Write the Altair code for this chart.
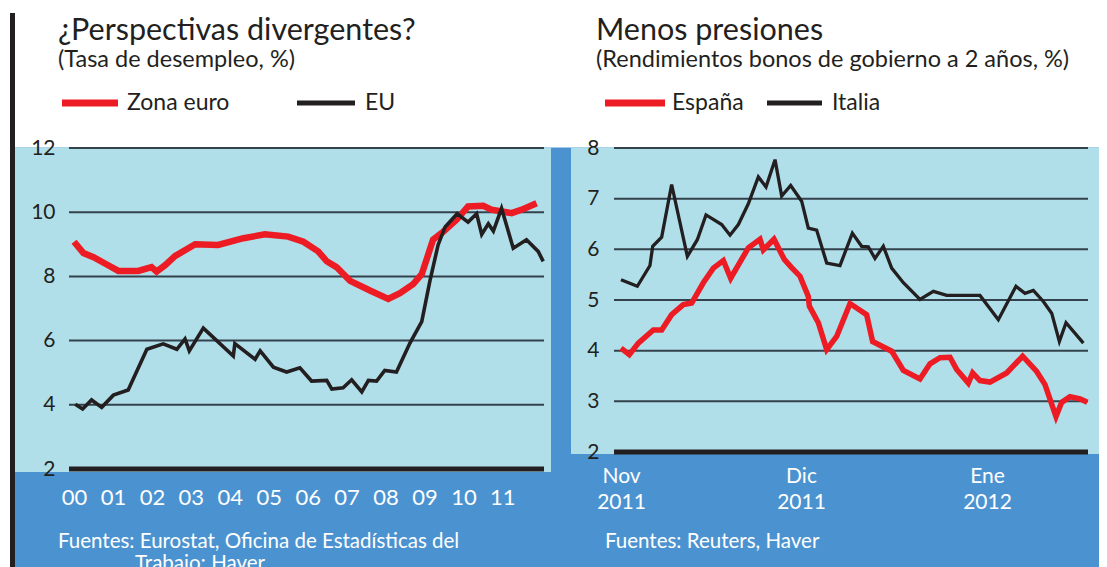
import json
import altair as alt
import pandas as pd

# ---------------- left panel: unemployment rate (%) ----------------
ez_years = [2000.0, 2000.24, 2000.50, 2000.84, 2001.14, 2001.65, 2001.99, 2002.12,
            2002.34, 2002.59, 2003.11, 2003.70, 2004.35, 2004.90, 2005.50, 2005.89,
            2006.27, 2006.49, 2006.74, 2007.09, 2007.60, 2008.07, 2008.37, 2008.71,
            2008.93, 2009.22, 2009.48, 2009.83, 2010.12, 2010.51, 2010.72, 2011.24,
            2011.54, 2011.88]
ez_values = [9.08, 8.73, 8.60, 8.37, 8.17, 8.17, 8.29, 8.15,
             8.35, 8.63, 9.00, 8.98, 9.19, 9.31, 9.24, 9.08,
             8.78, 8.47, 8.29, 7.86, 7.56, 7.30, 7.48, 7.76,
             8.07, 9.14, 9.39, 9.77, 10.18, 10.20, 10.08, 9.97,
             10.10, 10.28]

us_years = [2000.03, 2000.22, 2000.45, 2000.71, 2001.01, 2001.39, 2001.87, 2002.29,
            2002.64, 2002.85, 2002.96, 2003.32, 2004.09, 2004.13, 2004.65, 2004.78,
            2005.12, 2005.46, 2005.80, 2006.10, 2006.49, 2006.62, 2006.91, 2007.13,
            2007.39, 2007.56, 2007.77, 2007.98, 2008.28, 2008.63, 2008.93, 2009.14,
            2009.35, 2009.53, 2009.84, 2010.12, 2010.34, 2010.47, 2010.64, 2010.77,
            2010.98, 2011.28, 2011.62, 2011.92, 2012.05]
us_values = [4.02, 3.87, 4.15, 3.92, 4.30, 4.46, 5.73, 5.90,
             5.73, 6.05, 5.68, 6.39, 5.52, 5.91, 5.42, 5.68,
             5.17, 5.02, 5.15, 4.74, 4.76, 4.49, 4.53, 4.78,
             4.40, 4.76, 4.74, 5.07, 5.02, 5.93, 6.59, 7.86,
             8.98, 9.54, 9.95, 9.69, 9.95, 9.31, 9.64, 9.41,
             10.12, 8.88, 9.14, 8.78, 8.47]

left_series = ["Zona euro", "EU"]
left_tick_years = list(range(2000, 2012))
left_tick_labels = ["00", "01", "02", "03", "04", "05", "06", "07", "08", "09", "10", "11"]
left_y_ticks = [2, 4, 6, 8, 10, 12]
left_title = "¿Perspectivas divergentes?"
left_subtitle = "(Tasa de desempleo, %)"
left_source = ["Fuentes: Eurostat, Oficina de Estadísticas del", "Trabajo; Haver"]

# ---------------- right panel: 2-year government bond yields (%) ----------------
# days counted from 1 Nov 2011
es_days = [0.0, 1.39, 2.89, 5.39, 6.78, 8.44, 10.39, 11.78, 13.72, 15.39, 17.06, 18.28,
           21.22, 23.17, 23.72, 25.5, 27.22, 28.44, 29.83, 31.22, 31.39, 32.89, 34.28,
           35.94, 38.17, 40.94, 41.94, 45.11, 47.06, 49.83, 51.5, 53.17, 54.83, 55.94,
           57.89, 58.61, 59.83, 61.5, 64.28, 66.94, 69.28, 70.67, 72.5, 73.44, 74.83,
           76.5, 77.72]
es_values = [4.05, 3.92, 4.15, 4.41, 4.41, 4.71, 4.91, 4.94, 5.34, 5.63, 5.78, 5.43,
             6.03, 6.20, 5.99, 6.20, 5.80, 5.64, 5.47, 5.07, 4.88, 4.55, 4.02,
             4.28, 4.93, 4.71, 4.18, 3.99, 3.61, 3.44, 3.74, 3.86, 3.87, 3.63,
             3.36, 3.56, 3.41, 3.38, 3.56, 3.89, 3.59, 3.33, 2.70, 2.98, 3.09,
             3.05, 2.98]

it_days = [0.0, 2.72, 4.83, 5.28, 6.78, 8.44, 11.06, 12.72, 14.17, 16.78, 18.17, 19.56,
           21.22, 22.89, 24.17, 25.67, 26.78, 28.28, 30.11, 31.22, 32.61, 34.28, 36.5,
           38.56, 40.11, 41.22, 42.33, 43.72, 45.11, 47.06, 49.83, 52.06, 54.28, 59.83,
           62.89, 65.83, 67.33, 68.72, 70.39, 71.78, 73.06, 74.17, 77.06]
it_values = [5.40, 5.27, 5.68, 6.06, 6.24, 7.28, 5.86, 6.19, 6.68, 6.49, 6.28, 6.49,
             6.90, 7.43, 7.23, 7.77, 7.05, 7.26, 6.95, 6.42, 6.38, 5.73, 5.68,
             6.32, 6.06, 6.05, 5.82, 6.06, 5.63, 5.34, 5.01, 5.17, 5.09, 5.09,
             4.61, 5.27, 5.13, 5.19, 4.97, 4.74, 4.18, 4.55, 4.15]

right_series = ["España", "Italia"]
spanish_months = ["Ene", "Feb", "Mar", "Abr", "May", "Jun",
                  "Jul", "Ago", "Sep", "Oct", "Nov", "Dic"]
right_tick_dates = [(2011, 11, 1), (2011, 12, 1), (2012, 1, 1)]
right_y_ticks = [2, 3, 4, 5, 6, 7, 8]
right_title = "Menos presiones"
right_subtitle = "(Rendimientos bonos de gobierno a 2 años, %)"
right_source = "Fuentes: Reuters, Haver"

# ---------------- style / layout ----------------
RED = "#ed1c24"
BLACK = "#231f20"
LIGHT = "#b0dfea"
DARK = "#4b93d0"
GRID = "#34424d"
FONT = "Lato"
W, H = 1091, 559

# panel plot rectangles (pixels inside the canvas)
L_X0, L_X1, L_Y0, L_Y1 = 61, 536, 140, 461
R_X0, R_X1, R_Y0, R_Y1 = 606, 1080, 140, 444

dummy = pd.DataFrame({"a": [0]})


def rect(x, x2, y, y2, color):
    return alt.Chart(dummy).mark_rect(color=color, opacity=1).encode(
        x=alt.value(x), x2=alt.value(x2), y=alt.value(y), y2=alt.value(y2))


def label(txt, x, y, size, color=BLACK, baseline="alphabetic"):
    return alt.Chart(dummy).mark_text(
        text=txt, align="left", baseline=baseline, fontSize=size, font=FONT, color=color
    ).encode(x=alt.value(x), y=alt.value(y))


def swatch(x, x2, y, color, w):
    return alt.Chart(dummy).mark_rule(color=color, strokeWidth=w, strokeCap="butt").encode(
        x=alt.value(x), x2=alt.value(x2), y=alt.value(y))


# ---------------- left panel ----------------
ly_axis = alt.Axis(values=left_y_ticks, title=None, orient="left", offset=-L_X0,
                   domain=False, ticks=False, tickSize=0, grid=False,
                   labelFontSize=21, labelColor=BLACK, labelFont=FONT,
                   labelPadding=14, zindex=1)
lx_axis = alt.Axis(values=left_tick_years, title=None, orient="bottom", offset=L_Y1 - H,
                   domain=False, ticks=False, tickSize=0, grid=False,
                   labelFontSize=22, labelColor="white", labelFont=FONT,
                   labelPadding=18, labelFlush=False, labelOverlap=False, zindex=1,
                   labelExpr=f"{json.dumps(left_tick_labels)}[datum.value - 2000]")
ly = alt.Y("v:Q", scale=alt.Scale(domain=[2, 12], range=[L_Y1, L_Y0], nice=False, zero=False),
           axis=ly_axis)
lx = alt.X("t:Q", scale=alt.Scale(domain=[1999.87, 2012.07], range=[L_X0, L_X1],
                                  nice=False, zero=False), axis=lx_axis)

ez_df = pd.DataFrame({"t": ez_years, "v": ez_values})
us_df = pd.DataFrame({"t": us_years, "v": us_values})
lgrid_df = pd.DataFrame({"v": left_y_ticks[1:]})
lbase_df = pd.DataFrame({"v": left_y_ticks[:1]})

left_data = alt.layer(
    alt.Chart(lgrid_df).mark_rule(color=GRID, strokeWidth=2).encode(
        y=ly, x=alt.value(L_X0), x2=alt.value(L_X1)),
    alt.Chart(lbase_df).mark_rule(color=BLACK, strokeWidth=5).encode(
        y=ly, x=alt.value(L_X0), x2=alt.value(L_X1)),
    alt.Chart(ez_df).mark_line(color=RED, strokeWidth=6.5).encode(x=lx, y=ly),
    alt.Chart(us_df).mark_line(color=BLACK, strokeWidth=3.6).encode(x=lx, y=ly),
)

# ---------------- right panel ----------------
base = pd.Timestamp("2011-11-01")


def to_dates(days):
    return [(base + pd.Timedelta(days=d)).strftime("%Y-%m-%dT%H:%M:%S") for d in days]


es_df = pd.DataFrame({"d": to_dates(es_days), "v": es_values})
it_df = pd.DataFrame({"d": to_dates(it_days), "v": it_values})
rgrid_df = pd.DataFrame({"v": right_y_ticks[1:]})
rbase_df = pd.DataFrame({"v": right_y_ticks[:1]})

ry_axis = alt.Axis(values=right_y_ticks, title=None, orient="left", offset=-R_X0,
                   domain=False, ticks=False, tickSize=0, grid=False,
                   labelFontSize=21, labelColor=BLACK, labelFont=FONT,
                   labelPadding=15, zindex=1)
rx_axis = alt.Axis(values=[alt.DateTime(year=y, month=m, date=d) for (y, m, d) in right_tick_dates],
                   title=None, orient="bottom", offset=R_Y1 - H,
                   domain=False, ticks=False, tickSize=0, grid=False,
                   labelFontSize=21, labelColor="white", labelFont=FONT, labelPadding=13,
                   labelLineHeight=26, labelFlush=False, labelOverlap=False, zindex=1,
                   labelExpr=f"[{json.dumps(spanish_months)}[month(datum.value)], timeFormat(datum.value, '%Y')]")
ry = alt.Y("v:Q", scale=alt.Scale(domain=[2, 8], range=[R_Y1, R_Y0], nice=False, zero=False),
           axis=ry_axis)
rx = alt.X("d:T", scale=alt.Scale(domain=[alt.DateTime(year=2011, month=10, date=30, hours=20),
                                          alt.DateTime(year=2012, month=1, date=17, hours=20)],
                                  range=[R_X0, R_X1]), axis=rx_axis)

right_data = alt.layer(
    alt.Chart(rgrid_df).mark_rule(color=GRID, strokeWidth=2).encode(
        y=ry, x=alt.value(R_X0), x2=alt.value(R_X1)),
    alt.Chart(rbase_df).mark_rule(color=BLACK, strokeWidth=5).encode(
        y=ry, x=alt.value(R_X0), x2=alt.value(R_X1)),
    alt.Chart(es_df).mark_line(color=RED, strokeWidth=5.5).encode(x=rx, y=ry),
    alt.Chart(it_df).mark_line(color=BLACK, strokeWidth=3.3).encode(x=rx, y=ry),
)

# ---------------- decoration and text ----------------
backdrop = alt.layer(
    rect(2, 7, 5, H, BLACK),
    rect(7, W, 139.5, H, DARK),
    rect(7, 543, 139.5, 464, LIGHT),
    rect(563, W, 139.5, 446, LIGHT),
)

texts = alt.layer(
    label(left_title, 50, 32, 30.5),
    label(left_subtitle, 50, 59, 23.5),
    swatch(54, 110, 95, RED, 7),
    label(left_series[0], 119, 95, 23, baseline="middle"),
    swatch(289, 347, 95, BLACK, 5),
    label(left_series[1], 357, 95, 23, baseline="middle"),
    label(left_source[0], 50, 540, 20.5, color="white"),
    label(left_source[1], 127, 562, 20.5, color="white"),
    label(right_title, 588, 32, 30.5),
    label(right_subtitle, 588, 59, 23.5),
    swatch(597, 657, 95, RED, 7),
    label(right_series[0], 664, 95, 23, baseline="middle"),
    swatch(759, 814, 95, BLACK, 5),
    label(right_series[1], 824, 95, 23, baseline="middle"),
    label(right_source, 597, 540, 20.5, color="white"),
)

chart = alt.layer(backdrop, left_data, right_data, texts).resolve_scale(
    x="independent", y="independent"
).properties(
    width=W, height=H, padding=0,
    autosize=alt.AutoSizeParams(type="none"),
).configure(font=FONT, background="white").configure_view(stroke="transparent")

chart.save("out.html", embed_options={"renderer": "svg", "actions": False})
